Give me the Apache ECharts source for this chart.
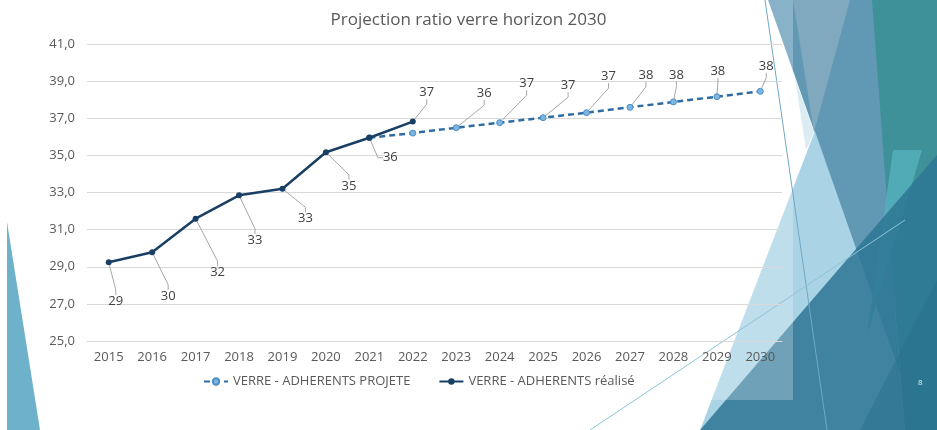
<!DOCTYPE html>
<html>
<head>
<meta charset="utf-8">
<script src="https://cdn.jsdelivr.net/npm/echarts@6/dist/echarts.min.js"></script>
<style>html,body{margin:0;padding:0;background:#fff;}#c{width:937px;height:430px;}</style>
</head>
<body>
<div id="c"></div>
<script>
var years = ['2015','2016','2017','2018','2019','2020','2021','2022','2023','2024','2025','2026','2027','2028','2029','2030'];
var realise = [29.24, 29.78, 31.59, 32.85, 33.2, 35.17, 35.95, 36.82, null, null, null, null, null, null, null, null];
var projete = [null, null, null, null, null, null, 35.95, 36.2, 36.49, 36.76, 37.03, 37.3, 37.59, 37.88, 38.16, 38.45];
var projeteLabelFrom = 8;
var nameProjete = 'VERRE - ADHERENTS PROJETE';
var nameRealise = 'VERRE - ADHERENTS réalisé';
var titleText = 'Projection ratio verre horizon 2030';

// label offsets (px) relative to each point
var offRealise = [[7,39],[16,44],[22,54],[16,45],[23,30],[23,34],[21,20],[14,-29]];
var offProjete = {8:[28,-34],9:[27,-39],10:[25,-32],11:[22,-36],12:[16,-32],13:[3,-27],14:[1,-25],15:[6,-25]};

var FONT = 'Open Sans';
var chart = echarts.init(document.getElementById('c'));

var projData = projete.map(function(v,i){
  return {value: v, label: {show: v !== null && i >= projeteLabelFrom}};
});

function poly(pts, fill){ return {type:'polygon', z:-10, silent:true, shape:{points:pts}, style:{fill:fill}}; }

chart.setOption({
  animation: false,
  title: {text: titleText, left: 'center', top: 7,
    textStyle: {fontFamily: FONT, fontSize: 17, fontWeight: 'normal', color: '#595959'}},
  graphic: [
    poly([[7,222],[7,430],[40,430]], '#6DB1CB'),
    poly([[870,0],[937,0],[937,430],[905,430]], '#3F9199'),
    poly([[768,0],[872,0],[900,374]], '#6199B5'),
    poly([[793,0],[850,0],[814,132]], '#80A9C0'),
    poly([[795,78],[814,132],[806,150]], 'rgba(215,234,242,0.9)'),
    poly([[815,131],[900,374],[905,430],[700,430]], 'rgba(158,206,227,0.88)'),
    poly([[893,150],[922,150],[867,335]], 'rgba(85,175,188,0.85)'),
    poly([[700,430],[937,155],[937,430]], 'rgba(45,118,148,0.85)'),
    poly([[860,430],[937,280],[937,430]], 'rgba(40,110,140,0.45)'),
    poly([[700,0],[793,0],[793,400],[700,400]], 'rgba(255,255,255,0.25)'),
    {type:'line', z:-9, silent:true, shape:{x1:765,y1:0,x2:827,y2:430}, style:{stroke:'#6FA9C4', lineWidth:1}},
    {type:'line', z:-9, silent:true, shape:{x1:590,y1:430,x2:905,y2:220}, style:{stroke:'#8EC2D6', lineWidth:1}},
    {type:'text', z:-8, left:918, top:379, style:{text:'8', fill:'#E6F0F4', font:'8px ' + FONT}}
  ],
  legend: {
    bottom: 37, left: 198, itemGap: 28, itemWidth: 24, itemHeight: 8,
    textStyle: {fontFamily: FONT, fontSize: 13, color: '#595959'},
    data: [nameProjete, nameRealise]
  },
  grid: {left: 87, right: 155, top: 44, bottom: 89},
  xAxis: {
    type: 'category', data: years, boundaryGap: true,
    axisLine: {show: true, lineStyle: {color: '#D9D9D9'}},
    axisTick: {show: false},
    axisLabel: {fontFamily: FONT, fontSize: 13, color: '#595959', margin: 10}
  },
  yAxis: {
    type: 'value', min: 25, max: 41, interval: 2,
    axisLine: {show: false}, axisTick: {show: false},
    splitLine: {lineStyle: {color: '#D9D9D9'}},
    axisLabel: {fontFamily: FONT, fontSize: 13, color: '#595959', margin: 12,
      formatter: function(v){ return v.toFixed(1).replace('.', ','); }}
  },
  series: [
    {
      name: nameProjete, type: 'line', data: projData, z: 2,
      symbol: 'circle', symbolSize: 6,
      lineStyle: {color: '#2E6CA3', width: 2.5, type: [6, 4]},
      itemStyle: {color: '#7DB6E0', borderColor: '#4C8DC4', borderWidth: 1},
      label: {show: true, fontFamily: FONT, fontSize: 13, color: '#404040',
        formatter: function(p){ return Math.round(p.value); }},
      labelLine: {show: true, length2: 5, lineStyle: {color: '#A6A6A6', width: 1}},
      labelLayout: function(p){
        var o = offProjete[p.dataIndex] || [0,-15];
        return {x: p.rect.x + p.rect.width/2 + o[0], y: p.rect.y + p.rect.height/2 + o[1], align: 'center', verticalAlign: 'middle'};
      }
    },
    {
      name: nameRealise, type: 'line', data: realise, z: 3,
      symbol: 'circle', symbolSize: 6,
      lineStyle: {color: '#1A3F64', width: 2.5},
      itemStyle: {color: '#1A3F64'},
      label: {show: true, fontFamily: FONT, fontSize: 13, color: '#404040',
        formatter: function(p){ return Math.round(p.value); }},
      labelLine: {show: true, length2: 5, lineStyle: {color: '#A6A6A6', width: 1}},
      labelLayout: function(p){
        var o = offRealise[p.dataIndex] || [0,-15];
        return {x: p.rect.x + p.rect.width/2 + o[0], y: p.rect.y + p.rect.height/2 + o[1], align: 'center', verticalAlign: 'middle'};
      }
    }
  ]
});
</script>
</body>
</html>
